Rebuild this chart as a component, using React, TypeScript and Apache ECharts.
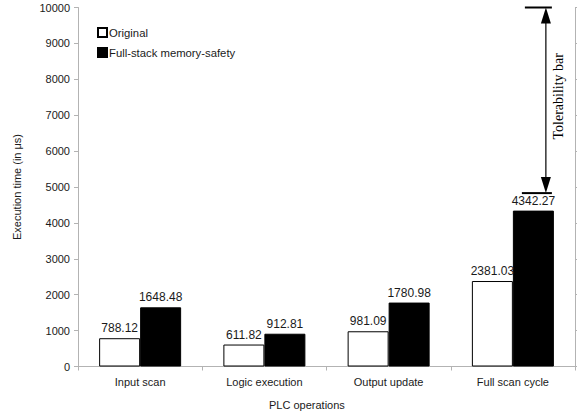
import React, { useEffect, useRef } from "react";
import * as echarts from "echarts";

const categories = ["Input scan", "Logic execution", "Output update", "Full scan cycle"];
const originalValues = [788.12, 611.82, 981.09, 2381.03];
const safetyValues = [1648.48, 912.81, 1780.98, 4342.27];
const yTicks = [0, 1000, 2000, 3000, 4000, 5000, 6000, 7000, 8000, 9000, 10000];
// tolerability bar: [category index, top value, bottom value]
const tolerability = [[3, 10000, 4830]];

const FONT = "Liberation Sans, Arial, sans-serif";

export default function App() {
  const ref = useRef<HTMLDivElement>(null);
  useEffect(() => {
    if (!ref.current) return;
    const chart = echarts.init(ref.current, undefined, { renderer: "svg" });
    const label = {
      show: true,
      position: "top",
      distance: 4,
      color: "#1a1a1a",
      fontSize: 12,
      fontFamily: FONT,
      formatter: (p: any) => Number(p.value).toFixed(2),
    };
    chart.setOption({
      animation: false,
      backgroundColor: "#ffffff",
      textStyle: { fontFamily: FONT },
      grid: { left: 78, right: 2, top: 7.5, bottom: 50.5 },
      legend: {
        orient: "vertical",
        left: 92,
        top: 22,
        itemWidth: 9,
        itemHeight: 9,
        itemGap: 9,
        icon: "rect",
        textStyle: { fontSize: 11.3, color: "#1a1a1a", fontFamily: FONT, padding: [0, 0, 0, -3] },
        data: ["Original", "Full-stack memory-safety"],
      },
      xAxis: {
        type: "category",
        data: categories,
        axisLine: { lineStyle: { color: "#b3b3b3" } },
        axisTick: { show: true, length: 4, lineStyle: { color: "#b3b3b3" } },
        axisLabel: { fontSize: 11, color: "#1a1a1a", margin: 10, fontFamily: FONT },
      },
      yAxis: [
        {
          type: "value",
          min: yTicks[0],
          max: yTicks[yTicks.length - 1],
          interval: 1000,
          name: "Execution time (in μs)",
          nameLocation: "middle",
          nameRotate: 90,
          nameGap: 56,
          nameTextStyle: { fontSize: 11, color: "#1a1a1a", fontFamily: FONT },
          axisLine: { show: true, lineStyle: { color: "#b3b3b3" } },
          axisTick: { show: true, length: 4, lineStyle: { color: "#b3b3b3" } },
          axisLabel: {
            fontSize: 11,
            color: "#1a1a1a",
            margin: 8,
            fontFamily: FONT,
            formatter: (v: number) => String(v),
          },
          splitLine: { show: false },
        },
        {
          type: "value",
          position: "right",
          min: yTicks[0],
          max: yTicks[yTicks.length - 1],
          interval: 1000,
          axisLine: { show: true, lineStyle: { color: "#b3b3b3" } },
          axisTick: { show: true, length: 3, lineStyle: { color: "#b3b3b3" } },
          axisLabel: { show: false },
          splitLine: { show: false },
        },
      ],
      graphic: [
        {
          type: "text",
          left: 307 - 38,
          top: 399,
          style: { text: "PLC operations", fontSize: 11, fill: "#1a1a1a", fontFamily: FONT },
        },
      ],
      series: [
        {
          name: "Original",
          type: "bar",
          data: originalValues,
          barWidth: 41,
          barGap: "0%",
          itemStyle: { color: "#ffffff", borderColor: "#000000", borderWidth: 1 },
          label,
        },
        {
          name: "Full-stack memory-safety",
          type: "bar",
          data: safetyValues,
          barWidth: 41,
          barGap: "0%",
          itemStyle: { color: "#000000", borderColor: "#000000", borderWidth: 1 },
          label,
        },
        {
          type: "custom",
          silent: true,
          z: 10,
          data: tolerability,
          renderItem: (params: any, api: any) => {
            const top = api.coord([api.value(0), api.value(1)]);
            const bot = api.coord([api.value(0), api.value(2)]);
            const cx = top[0];
            const ax = cx + 33;
            const yt = top[1];
            const yb = bot[1];
            return {
              type: "group",
              children: [
                { type: "line", shape: { x1: cx + 12, y1: yt, x2: cx + 39, y2: yt }, style: { stroke: "#000", lineWidth: 2 } },
                { type: "line", shape: { x1: cx + 9, y1: yb, x2: cx + 39, y2: yb }, style: { stroke: "#000", lineWidth: 2 } },
                { type: "line", shape: { x1: ax, y1: yt + 10, x2: ax, y2: yb - 10 }, style: { stroke: "#000", lineWidth: 1.2 } },
                { type: "polygon", shape: { points: [[ax, yt], [ax - 5, yt + 16], [ax + 5, yt + 16]] }, style: { fill: "#000" } },
                { type: "polygon", shape: { points: [[ax, yb], [ax - 5, yb - 16], [ax + 5, yb - 16]] }, style: { fill: "#000" } },
                {
                  type: "text",
                  x: ax + 13,
                  y: (yt + yb) / 2 - 4,
                  rotation: Math.PI / 2,
                  style: {
                    text: "Tolerability bar",
                    fontSize: 14,
                    fontFamily: "Liberation Serif, serif",
                    fill: "#000",
                    align: "center",
                    verticalAlign: "middle",
                  },
                },
              ],
            };
          },
        },
      ],
    });
    return () => chart.dispose();
  }, []);
  return <div ref={ref} style={{ width: 577, height: 417, position: "absolute", left: 0, top: 0 }} />;
}
